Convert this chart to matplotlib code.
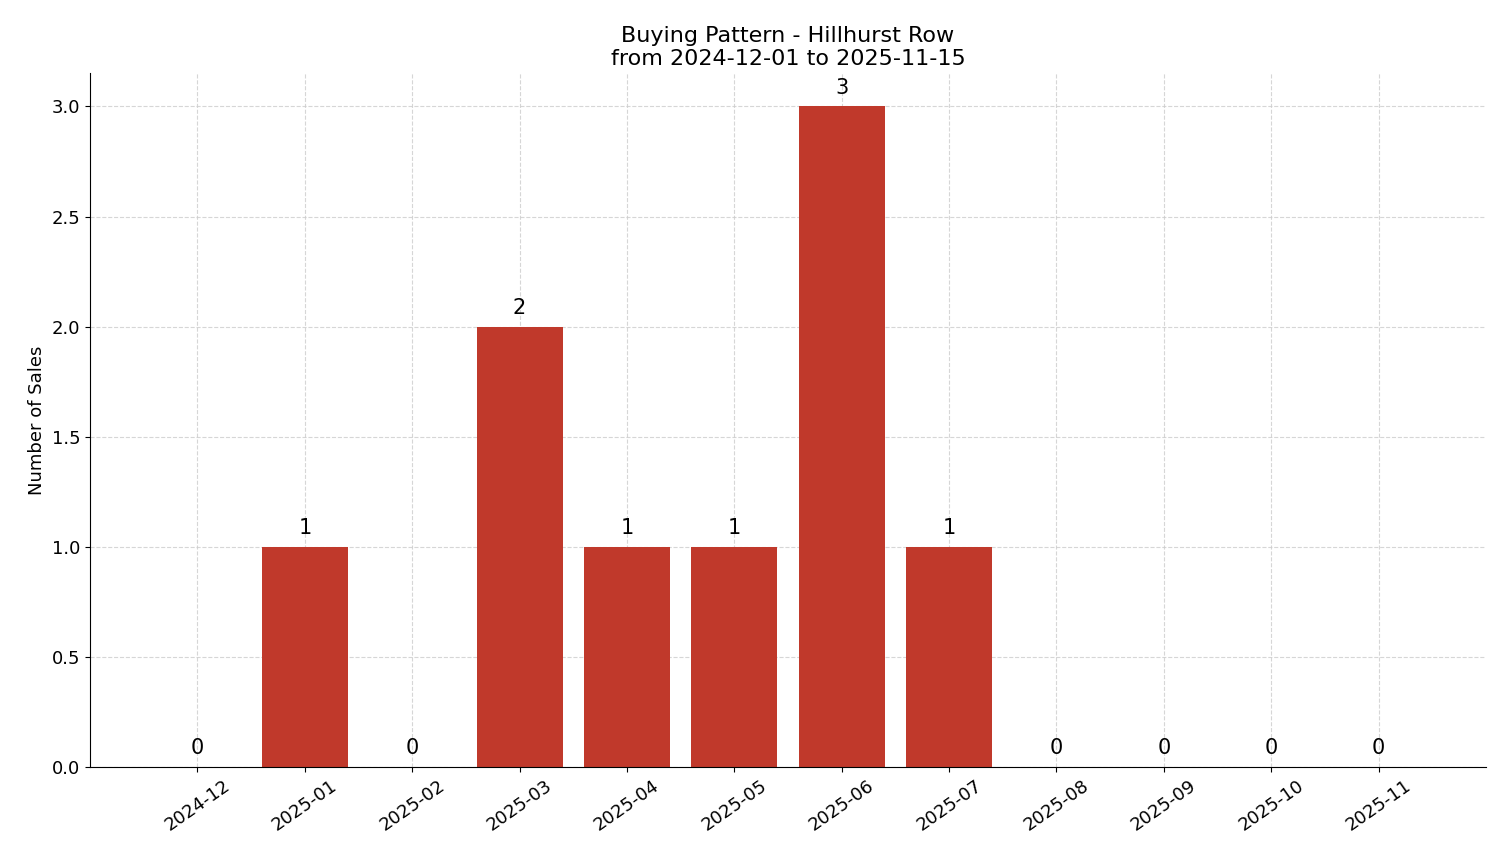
import matplotlib
matplotlib.use("Agg")
import matplotlib.pyplot as plt

months = ["2024-12","2025-01","2025-02","2025-03","2025-04","2025-05",
          "2025-06","2025-07","2025-08","2025-09","2025-10","2025-11"]
sales = [0,1,0,2,1,1,3,1,0,0,0,0]

fig, ax = plt.subplots(figsize=(15.01, 8.63), dpi=100)
fig.subplots_adjust(left=0.06, right=0.99, top=0.915, bottom=0.111)
x = range(len(months))
ax.bar(x, sales, width=0.8, color="#c0392b", zorder=2)
for i, v in zip(x, sales):
    ax.text(i, v + 0.04, str(v), ha="center", va="bottom", fontsize=15)
ax.set_xticks(list(x))
ax.set_xticklabels(months, rotation=35, fontsize=13)
ax.tick_params(axis="y", labelsize=13)
ax.set_xlim(-1, 12)
ax.set_ylim(0, 3.15)
ax.set_ylabel("Number of Sales", fontsize=13)
ax.set_title("Buying Pattern - Hillhurst Row\nfrom 2024-12-01 to 2025-11-15", fontsize=16)
ax.grid(True, linestyle="--", color="#cccccc", alpha=0.8, linewidth=0.8, zorder=0)
ax.spines["top"].set_visible(False)
ax.spines["right"].set_visible(False)
fig.savefig("out.png")
